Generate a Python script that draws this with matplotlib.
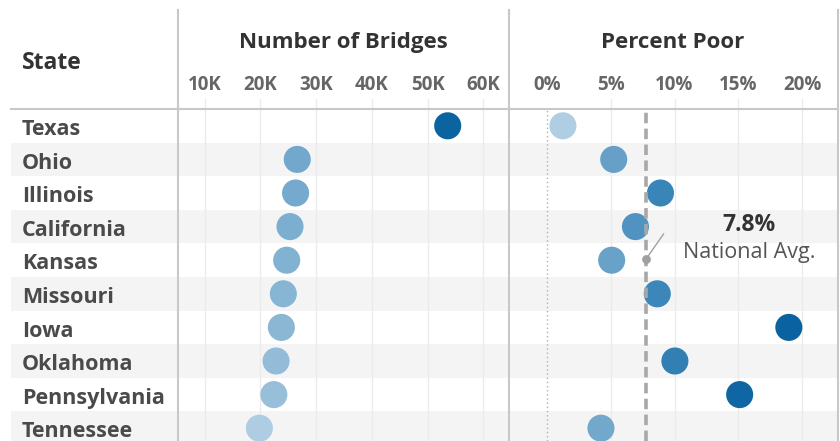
import matplotlib
matplotlib.use("Agg")
import matplotlib.pyplot as plt
from matplotlib.colors import LinearSegmentedColormap, Normalize
from matplotlib.lines import Line2D
from matplotlib.transforms import blended_transform_factory as blend

plt.rcParams['font.family'] = ['Open Sans', 'DejaVu Sans']

states = ["Texas", "Ohio", "Illinois", "California", "Kansas", "Missouri",
          "Iowa", "Oklahoma", "Pennsylvania", "Tennessee"]
bridges = [53600, 26600, 26300, 25300, 24700, 24100, 23750, 22800, 22400, 19800]
pct_poor = [1.26, 5.24, 8.9, 6.94, 5.08, 8.65, 18.95, 10.03, 15.1, 4.24]
national_avg = 7.8

bridge_ticks = [10000, 20000, 30000, 40000, 50000, 60000]
bridge_labels = ["10K", "20K", "30K", "40K", "50K", "60K"]
pct_ticks = [0, 5, 10, 15, 20]
pct_labels = ["0%", "5%", "10%", "15%", "20%"]

W, H = 840, 441
cmap = LinearSegmentedColormap.from_list(
    "blues", [(0, "#b5d1e4"), (0.2, "#76aace"), (0.5, "#3d87b9"), (1, "#0a62a0")])

fig = plt.figure(figsize=(W / 100, H / 100), dpi=100)

def fy(py):
    return 1 - py / H

top = 109
n_vis = (H - top) / 33.6
ylim = (-0.5 + n_vis, -0.5)

# background stripes + state names
bg = fig.add_axes([11 / W, 0, (838 - 11) / W, (H - top) / H])
bg.set_ylim(*ylim)
bg.set_xlim(0, 1)
bg.axis("off")
for i in range(len(states)):
    if i % 2 == 1:
        bg.axhspan(i - 0.5, i + 0.5, color="#f4f4f4", lw=0, zorder=0)
tr = blend(fig.transFigure, bg.transData)
for i, s in enumerate(states):
    bg.text(22 / W, i + 0.274, s, transform=tr, ha="left", va="baseline",
            fontsize=15.5, fontweight="bold", color="#4a4a4a")

axL = fig.add_axes([178 / W, 0, (509 - 178) / W, (H - top) / H])
axR = fig.add_axes([509 / W, 0, (838 - 509) / W, (H - top) / H])
axL.set_xlim(5200, 64600)
axR.set_xlim(-2.96, 22.8)

for ax, ticks, labels in [(axL, bridge_ticks, bridge_labels), (axR, pct_ticks, pct_labels)]:
    ax.set_ylim(*ylim)
    ax.patch.set_visible(False)
    for sp in ax.spines.values():
        sp.set_visible(False)
    ax.set_xticks([])
    ax.set_yticks([])
    for t, lab in zip(ticks, labels):
        if not (ax is axR and t == 0):
            ax.axvline(t, ymin=0, ymax=1 + 10 / (H - top), color="#ebebeb", lw=1,
                       clip_on=False, zorder=1)
        ax.text(t, fy(90.5), lab, transform=blend(ax.transData, fig.transFigure),
                ha="center", va="baseline", fontsize=13.5, fontweight="bold",
                color="#666666")

normL = Normalize(19000, 54000, clip=True)
normR = Normalize(1, 16, clip=True)
ys = list(range(len(states)))
axL.scatter(bridges, ys, s=380, c=[cmap(normL(v)) for v in bridges], lw=0, zorder=3)
axR.scatter(pct_poor, ys, s=380, c=[cmap(normR(v)) for v in pct_poor], lw=0, zorder=3)

axR.axvline(0, color="#b0b0b0", lw=1, ls=(0, (1, 2)), zorder=2)
axR.axvline(national_avg, color="#a8a8a8", lw=2.6, ls=(0, (2.9, 1.5)), zorder=4)

# national average callout
axR.plot([national_avg, 9.14], [3.95, 3.22], color="#a0a0a0", lw=1, zorder=5)
axR.scatter([national_avg], [3.95], s=40, color="#a0a0a0", lw=0, zorder=5)
axR.text(15.83, 3.122, "7.8%", ha="center", va="baseline", fontsize=16.5,
         fontweight="bold", color="#333333", zorder=6)
axR.text(15.83, 3.943, "National Avg.", ha="center", va="baseline", fontsize=15.5,
         color="#555555", zorder=6)

# headers
fig.text(22 / W, fy(69), "State", ha="left", va="baseline", fontsize=16.5,
         fontweight="bold", color="#333333")
fig.text(343 / W, fy(48), "Number of Bridges", ha="center", va="baseline",
         fontsize=16, fontweight="bold", color="#333333")
fig.text(673 / W, fy(48), "Percent Poor", ha="center", va="baseline",
         fontsize=16, fontweight="bold", color="#333333")

# frame lines
for x in (178, 509, 838):
    fig.add_artist(Line2D([x / W, x / W], [fy(10), 0], color="#c8c8c8", lw=1.5))
fig.add_artist(Line2D([11 / W, 838 / W], [fy(top), fy(top)], color="#c8c8c8", lw=1.5))

fig.savefig("out.png", dpi=100, facecolor="white")
